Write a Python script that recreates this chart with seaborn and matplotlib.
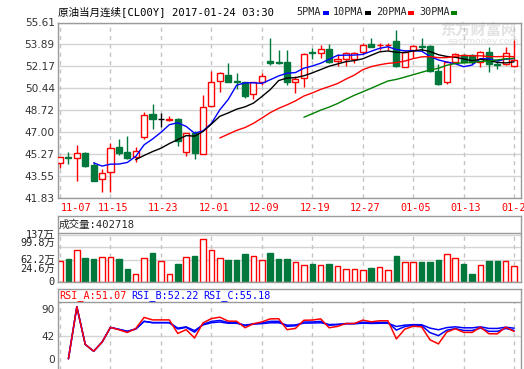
import numpy as np
import pandas as pd
import seaborn as sns
import matplotlib.pyplot as plt
from matplotlib.patches import Rectangle

W, H = 524, 369

# ---- data ----
date_labels = ["11-07", "11-15", "11-23", "12-01", "12-09", "12-19", "12-27", "01-05", "01-13", "01-23"]
opens = [44.57, 45.03, 44.96, 45.35, 44.43, 43.31, 43.86, 45.82, 45.43, 45.04,
         46.62, 48.40, 48.01, 47.99, 48.01, 45.47, 46.96, 45.29, 49.05, 51.04,
         51.49, 51.00, 50.92, 50.00, 50.97, 52.56, 52.53, 52.50, 50.91, 51.22,
         53.27, 53.25, 53.56, 52.59, 52.77, 52.77, 53.31, 53.92, 53.82, 53.82,
         54.14, 52.15, 53.45, 53.73, 53.76, 51.82, 50.91, 52.48, 53.04, 53.04,
         52.48, 53.30, 52.35, 52.33, 52.17]
highs = [45.05, 45.43, 45.98, 45.43, 44.64, 44.10, 46.18, 46.44, 46.66, 45.84,
         48.58, 49.20, 48.52, 48.30, 48.13, 46.96, 47.10, 49.90, 51.81, 51.75,
         52.44, 51.67, 50.97, 50.97, 51.67, 54.38, 53.42, 53.42, 51.43, 53.25,
         53.64, 53.85, 53.90, 53.11, 53.30, 53.30, 53.97, 54.40, 54.02, 54.02,
         55.00, 53.45, 53.84, 54.40, 53.84, 52.38, 52.55, 53.25, 53.17, 53.17,
         53.38, 53.67, 52.59, 53.69, 54.20]
lows = [44.18, 44.49, 43.13, 44.30, 43.13, 42.27, 42.27, 45.22, 44.90, 44.63,
        46.47, 47.23, 47.43, 47.86, 45.92, 45.14, 44.93, 45.27, 49.00, 50.16,
        50.95, 50.37, 49.71, 49.61, 50.71, 52.25, 52.34, 50.67, 50.04, 50.56,
        52.72, 52.85, 52.40, 52.20, 52.20, 52.41, 53.11, 53.66, 53.45, 53.42,
        52.09, 52.10, 52.85, 53.38, 51.74, 50.69, 50.82, 52.43, 52.48, 52.35,
        52.15, 51.74, 51.95, 52.25, 52.12]
closes = [45.02, 45.00, 45.35, 44.38, 43.18, 43.78, 45.74, 45.40, 45.00, 45.55,
          48.34, 48.01, 48.01, 48.01, 46.31, 46.91, 45.35, 48.94, 50.90, 51.67,
          50.97, 50.95, 49.87, 50.92, 51.44, 52.40, 52.45, 50.94, 51.17, 53.17,
          53.23, 53.56, 52.47, 52.72, 53.25, 53.25, 53.84, 53.71, 53.86, 53.86,
          52.17, 53.31, 53.76, 53.69, 51.82, 50.77, 52.48, 53.11, 52.51, 52.48,
          53.30, 52.33, 52.31, 53.25, 52.69]
volumes = [60.3, 66, 92.4, 69, 66, 71, 71, 66, 37, 22.4,
           68, 84.5, 60, 22.4, 51.6, 73, 75, 123.6, 92.4, 68,
           63, 63, 80.8, 75, 63, 84.5, 66, 66, 58.3, 48.7,
           51.6, 48.7, 51.6, 45.8, 36, 36, 34, 40, 42, 34,
           75, 58.3, 58.3, 58.3, 58.3, 63, 80.8, 69, 51.6, 22.4,
           48.7, 60.3, 60.3, 60.3, 45]  # 万手
price_ticks = [55.61, 53.89, 52.17, 50.44, 48.72, 47.00, 45.27, 43.55, 41.83]
vol_ticks = [137, 99.8, 62.2, 24.6, 0]
vol_tick_labels = ["137万", "99.8万", "62.2万", "24.6万", "0"]
rsi_ticks = [90, 42, 0]
ma_periods = [5, 10, 20, 30]
ma_colors = ["#0000ff", "#000000", "#ff0000", "#008000"]
rsi_periods = [6, 12, 24]
rsi_colors = ["#ff0000", "#0000ff", "#0000ff"]
rsi_labels = ["RSI_A:51.07", "RSI_B:52.22", "RSI_C:55.18"]

RED = "#ff0000"
GREEN = "#00783c"
FRAME = "#9a9a9a"
GRID = "#d4d4d4"
VGRID = "#c4c4c4"
MONO = ["DejaVu Sans Mono", "Noto Sans CJK SC"]

sns.set_style("white")
plt.rcParams["font.family"] = ["DejaVu Sans", "Noto Sans CJK SC"]


def rect(l, t, r, b):
    return [l / W, 1 - b / H, (r - l) / W, (b - t) / H]


def rsi(c, n):
    d = np.diff(np.asarray(c))
    up = np.maximum(d, 0)
    ab = np.abs(d)
    out = [np.nan]
    su = sa = 0.0
    for t in range(len(d)):
        if t < n:
            su, sa = up[:t + 1].mean(), ab[:t + 1].mean()
        else:
            su = (up[t] + (n - 1) * su) / n
            sa = (ab[t] + (n - 1) * sa) / n
        out.append(100 * su / sa if sa > 0 else 0)
    return out


df = pd.DataFrame({"i": np.arange(len(closes)), "open": opens, "high": highs,
                   "low": lows, "close": closes, "vol": volumes})
n = len(df)
XL = (-0.3, 54.82)
vlines_at = list(range(0, n, 6))

fig = plt.figure(figsize=(W / 100, H / 100), dpi=100)


def style_axes(a):
    for s in a.spines.values():
        s.set_color(FRAME)
        s.set_linewidth(1)
    a.set_xticks([])
    a.tick_params(axis="y", length=0, pad=2, labelsize=7.5, labelcolor="#222222")
    a.set_xlim(*XL)
    a.set_xlabel("")
    a.set_ylabel("")


# ---------------- main price panel ----------------
ax = fig.add_axes(rect(57.5, 22.5, 521, 198))
ax.set_ylim(41.83, 55.61)
for v in price_ticks:
    ax.axhline(v, color=GRID, lw=1, zorder=0.6)
for k in vlines_at:
    ax.axvline(k, color=VGRID, lw=1, ls=(0, (3, 3)), zorder=0.6)

ax.text(440 / W, 1 - 30 / H, "东方财富网", transform=fig.transFigure, fontsize=11,
        fontweight="bold", color="#e2e2e2", family="Noto Sans CJK SC", va="center", zorder=0.5)
ax.text(447 / W, 1 - 42 / H, "eastmoney.com", transform=fig.transFigure, fontsize=6.5,
        color="#e2e2e2", va="center", zorder=0.5)

for r in df.itertuples():
    if abs(r.close - r.open) < 1e-9:
        col = "#000000"
    elif r.close > r.open:
        col = RED
    else:
        col = GREEN
    ax.vlines(r.i, r.low, r.high, color=col, lw=1, zorder=2)
    lo, hi = min(r.open, r.close), max(r.open, r.close)
    face = "white" if col == RED else col
    ax.add_patch(Rectangle((r.i - 0.36, lo), 0.72, hi - lo, facecolor=face,
                           edgecolor=col, lw=1, zorder=3))

for p, c in zip(ma_periods, ma_colors):
    sub = df.assign(ma=df["close"].rolling(p).mean()).dropna(subset=["ma"])
    sns.lineplot(data=sub, x="i", y="ma", color=c, lw=1, ax=ax, legend=False, zorder=4)

style_axes(ax)
ax.set_ylim(41.83, 55.61)
ax.set_yticks(price_ticks)
ax.set_yticklabels([f"{v:.2f}" for v in price_ticks], color="#333333", fontsize=7.6)

for j, lab in enumerate(date_labels):
    x = vlines_at[j]
    if j == 0:
        ax.text(x + 0.1, -0.058, lab, transform=ax.get_xaxis_transform(), ha="left",
                va="center", color=RED, fontsize=7.3, family=MONO)
    else:
        ax.text(x + 0.3, -0.058, lab, transform=ax.get_xaxis_transform(), ha="center",
                va="center", color=RED, fontsize=7.3, family=MONO, clip_on=False)

# header
fig.text(58 / W, 1 - 12 / H, "原油当月连续[CL00Y] 2017-01-24 03:30", family=MONO,
         fontsize=7.6, va="center", color="#000000")
leg_items = [("5PMA", 296, 323), ("10PMA", 333, 365), ("20PMA", 376, 408), ("30PMA", 419, 451)]
for (lab, tx, sx), c in zip(leg_items, ma_colors):
    fig.text(tx / W, 1 - 12 / H, lab, family=MONO, fontsize=7.3, va="center")
    fig.add_artist(Rectangle((sx / W, 1 - 14.5 / H), 5.5 / W, 4 / H, transform=fig.transFigure,
                             facecolor=c, edgecolor="none"))

# ---------------- volume panel ----------------
vax = fig.add_axes(rect(57.5, 216, 521, 282))
vax.set_ylim(-0.87, 191.5)
for v in [137, 99.8, 62.2]:
    vax.hlines(v, *XL, color=GRID, lw=1, zorder=0.6)
vax.axhline(142, color=FRAME, lw=1)
vax.vlines(vlines_at, -0.87, 142, color=VGRID, lw=1, ls=(0, (3, 3)), zorder=0.6)
up = df["close"] >= df["open"]
vcol = [RED if u else GREEN for u in up]
vface = ["white" if u else GREEN for u in up]
vax.bar(df["i"], df["vol"], width=0.66, color=vface, edgecolor=vcol, lw=1, zorder=2)
style_axes(vax)
vax.set_yticks(vol_ticks)
vax.set_yticklabels([])
# tick labels nudged apart like the reference so they do not collide
label_nudge = [0, 3, 0, 3, 0]
for v, lab, dy in zip(vol_ticks, vol_tick_labels, label_nudge):
    vax.annotate(lab, xy=(0, v), xycoords=("axes fraction", "data"), xytext=(-2, dy),
                 textcoords="offset points", ha="right", va="center", family=MONO,
                 fontsize=7.4, color="#222222", annotation_clip=False)
vax.text(59 / W, 1 - 224.5 / H, "成交量:402718", transform=fig.transFigure, family=MONO,
         fontsize=7.6, va="center")

# ---------------- RSI panel ----------------
rax = fig.add_axes(rect(57.5, 289, 521, 370))
rax.set_ylim(-20.4, 126.9)
rax.hlines(42, *XL, color=GRID, lw=1, zorder=0.6)
rax.axhline(103.3, color=FRAME, lw=1)
rax.vlines(vlines_at, -20.4, 103.3, color=VGRID, lw=1, ls=(0, (3, 3)), zorder=0.6)
for p, c in zip(rsi_periods[::-1], rsi_colors[::-1]):
    sub = df.assign(r=rsi(closes, p)).dropna(subset=["r"])
    sns.lineplot(data=sub, x="i", y="r", color=c, lw=1.1, ax=rax, legend=False, zorder=3)
style_axes(rax)
rax.set_ylim(-20.4, 126.9)
rax.set_yticks(rsi_ticks)
rax.set_yticklabels([str(v) for v in rsi_ticks], fontsize=7.6, color="#333333")
for lab, c, x in zip(rsi_labels, rsi_colors, [59, 131, 203]):
    rax.text(x / W, 1 - 295.5 / H, lab, transform=fig.transFigure, family=MONO,
             fontsize=7.3, va="center", color=c)

fig.savefig("out.png", dpi=100)
